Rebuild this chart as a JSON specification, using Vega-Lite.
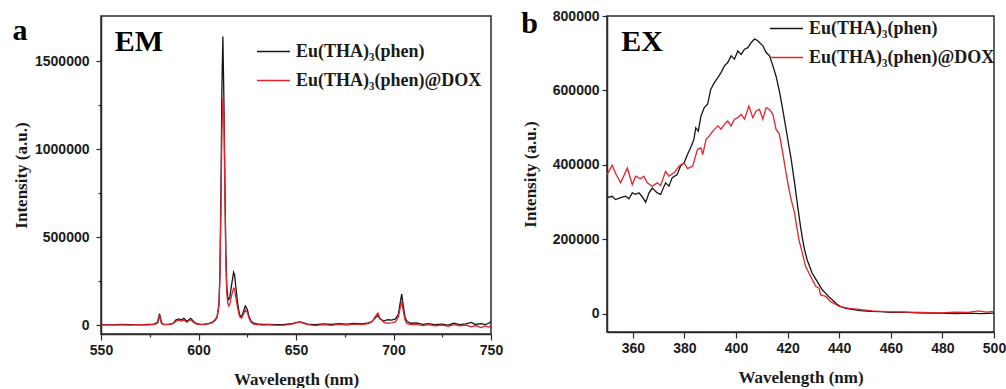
{
  "$schema": "https://vega.github.io/schema/vega-lite/v6.json",
  "background": "white",
  "padding": {"left": 11, "top": 8, "right": 5, "bottom": 0},
  "spacing": 116,
  "bounds": "flush",
  "config": {
    "view": {"stroke": "#2a2a2a", "strokeWidth": 1.5},
    "axis": {
      "grid": false,
      "labelFont": "Liberation Sans",
      "labelFontWeight": "bold",
      "labelFontSize": 14,
      "labelColor": "#1a1a1a",
      "titleFont": "Liberation Serif",
      "titleFontWeight": "bold",
      "titleFontSize": 17,
      "titleColor": "#1a1a1a",
      "domainColor": "#2a2a2a",
      "domainWidth": 1.5,
      "tickColor": "#2a2a2a",
      "tickWidth": 1.2,
      "labelFlush": false,
      "labelOverlap": false
    },
    "legend": {
      "labelFont": "Liberation Serif",
      "labelFontWeight": "bold",
      "labelFontSize": 18,
      "labelLimit": 400,
      "labelColor": "#1a1a1a",
      "symbolType": "stroke",
      "symbolSize": 1089,
      "symbolStrokeWidth": 1.6,
      "labelOffset": 5,
      "rowPadding": 2,
      "padding": 0,
      "title": null
    }
  },
  "resolve": {"scale": {"color": "independent"}, "legend": {"color": "independent"}},
  "datasets": {
    "em": [
      {"series": "Eu(THA)₃(phen)", "wl": 550, "I": 2000},
      {"series": "Eu(THA)₃(phen)", "wl": 555, "I": 1000},
      {"series": "Eu(THA)₃(phen)", "wl": 560, "I": 3000},
      {"series": "Eu(THA)₃(phen)", "wl": 565, "I": 2000},
      {"series": "Eu(THA)₃(phen)", "wl": 570, "I": 1000},
      {"series": "Eu(THA)₃(phen)", "wl": 574, "I": 3000},
      {"series": "Eu(THA)₃(phen)", "wl": 577, "I": 4000},
      {"series": "Eu(THA)₃(phen)", "wl": 579, "I": 15000},
      {"series": "Eu(THA)₃(phen)", "wl": 580, "I": 65000},
      {"series": "Eu(THA)₃(phen)", "wl": 581, "I": 15000},
      {"series": "Eu(THA)₃(phen)", "wl": 582, "I": 4000},
      {"series": "Eu(THA)₃(phen)", "wl": 585, "I": 5000},
      {"series": "Eu(THA)₃(phen)", "wl": 587, "I": 10000},
      {"series": "Eu(THA)₃(phen)", "wl": 588.5, "I": 30000},
      {"series": "Eu(THA)₃(phen)", "wl": 590, "I": 35000},
      {"series": "Eu(THA)₃(phen)", "wl": 591, "I": 28000},
      {"series": "Eu(THA)₃(phen)", "wl": 592.5, "I": 38000},
      {"series": "Eu(THA)₃(phen)", "wl": 594, "I": 22000},
      {"series": "Eu(THA)₃(phen)", "wl": 596, "I": 38000},
      {"series": "Eu(THA)₃(phen)", "wl": 597.5, "I": 20000},
      {"series": "Eu(THA)₃(phen)", "wl": 599, "I": 8000},
      {"series": "Eu(THA)₃(phen)", "wl": 601, "I": 4000},
      {"series": "Eu(THA)₃(phen)", "wl": 603, "I": 5000},
      {"series": "Eu(THA)₃(phen)", "wl": 605, "I": 8000},
      {"series": "Eu(THA)₃(phen)", "wl": 607, "I": 15000},
      {"series": "Eu(THA)₃(phen)", "wl": 608.5, "I": 30000},
      {"series": "Eu(THA)₃(phen)", "wl": 609.5, "I": 45000},
      {"series": "Eu(THA)₃(phen)", "wl": 610.5, "I": 120000},
      {"series": "Eu(THA)₃(phen)", "wl": 611, "I": 300000},
      {"series": "Eu(THA)₃(phen)", "wl": 611.5, "I": 750000},
      {"series": "Eu(THA)₃(phen)", "wl": 612, "I": 1350000},
      {"series": "Eu(THA)₃(phen)", "wl": 612.5, "I": 1640000},
      {"series": "Eu(THA)₃(phen)", "wl": 613, "I": 1300000},
      {"series": "Eu(THA)₃(phen)", "wl": 613.5, "I": 850000},
      {"series": "Eu(THA)₃(phen)", "wl": 614, "I": 420000},
      {"series": "Eu(THA)₃(phen)", "wl": 614.5, "I": 220000},
      {"series": "Eu(THA)₃(phen)", "wl": 615, "I": 160000},
      {"series": "Eu(THA)₃(phen)", "wl": 615.5, "I": 145000},
      {"series": "Eu(THA)₃(phen)", "wl": 616, "I": 155000},
      {"series": "Eu(THA)₃(phen)", "wl": 617, "I": 230000},
      {"series": "Eu(THA)₃(phen)", "wl": 618, "I": 300000},
      {"series": "Eu(THA)₃(phen)", "wl": 618.5, "I": 285000},
      {"series": "Eu(THA)₃(phen)", "wl": 619, "I": 230000},
      {"series": "Eu(THA)₃(phen)", "wl": 620, "I": 130000},
      {"series": "Eu(THA)₃(phen)", "wl": 621, "I": 60000},
      {"series": "Eu(THA)₃(phen)", "wl": 622, "I": 45000},
      {"series": "Eu(THA)₃(phen)", "wl": 623, "I": 75000},
      {"series": "Eu(THA)₃(phen)", "wl": 624, "I": 108000},
      {"series": "Eu(THA)₃(phen)", "wl": 625, "I": 90000},
      {"series": "Eu(THA)₃(phen)", "wl": 626, "I": 45000},
      {"series": "Eu(THA)₃(phen)", "wl": 627, "I": 22000},
      {"series": "Eu(THA)₃(phen)", "wl": 628, "I": 12000},
      {"series": "Eu(THA)₃(phen)", "wl": 630, "I": 6000},
      {"series": "Eu(THA)₃(phen)", "wl": 633, "I": 4000},
      {"series": "Eu(THA)₃(phen)", "wl": 636, "I": 3000},
      {"series": "Eu(THA)₃(phen)", "wl": 640, "I": 2000},
      {"series": "Eu(THA)₃(phen)", "wl": 644, "I": 3000},
      {"series": "Eu(THA)₃(phen)", "wl": 648, "I": 8000},
      {"series": "Eu(THA)₃(phen)", "wl": 650, "I": 14000},
      {"series": "Eu(THA)₃(phen)", "wl": 652, "I": 18000},
      {"series": "Eu(THA)₃(phen)", "wl": 654, "I": 12000},
      {"series": "Eu(THA)₃(phen)", "wl": 656, "I": 5000},
      {"series": "Eu(THA)₃(phen)", "wl": 660, "I": 2000},
      {"series": "Eu(THA)₃(phen)", "wl": 664, "I": 6000},
      {"series": "Eu(THA)₃(phen)", "wl": 668, "I": 3000},
      {"series": "Eu(THA)₃(phen)", "wl": 672, "I": 8000},
      {"series": "Eu(THA)₃(phen)", "wl": 676, "I": 5000},
      {"series": "Eu(THA)₃(phen)", "wl": 680, "I": 9000},
      {"series": "Eu(THA)₃(phen)", "wl": 684, "I": 6000},
      {"series": "Eu(THA)₃(phen)", "wl": 687, "I": 12000},
      {"series": "Eu(THA)₃(phen)", "wl": 689, "I": 20000},
      {"series": "Eu(THA)₃(phen)", "wl": 691, "I": 45000},
      {"series": "Eu(THA)₃(phen)", "wl": 692, "I": 55000},
      {"series": "Eu(THA)₃(phen)", "wl": 693, "I": 35000},
      {"series": "Eu(THA)₃(phen)", "wl": 695, "I": 22000},
      {"series": "Eu(THA)₃(phen)", "wl": 697, "I": 30000},
      {"series": "Eu(THA)₃(phen)", "wl": 699, "I": 28000},
      {"series": "Eu(THA)₃(phen)", "wl": 701, "I": 35000},
      {"series": "Eu(THA)₃(phen)", "wl": 702.5, "I": 60000},
      {"series": "Eu(THA)₃(phen)", "wl": 703.5, "I": 130000},
      {"series": "Eu(THA)₃(phen)", "wl": 704.2, "I": 176000},
      {"series": "Eu(THA)₃(phen)", "wl": 705, "I": 110000},
      {"series": "Eu(THA)₃(phen)", "wl": 706, "I": 40000},
      {"series": "Eu(THA)₃(phen)", "wl": 707, "I": 20000},
      {"series": "Eu(THA)₃(phen)", "wl": 709, "I": 10000},
      {"series": "Eu(THA)₃(phen)", "wl": 712, "I": 12000},
      {"series": "Eu(THA)₃(phen)", "wl": 715, "I": 4000},
      {"series": "Eu(THA)₃(phen)", "wl": 718, "I": 8000},
      {"series": "Eu(THA)₃(phen)", "wl": 721, "I": 2000},
      {"series": "Eu(THA)₃(phen)", "wl": 725, "I": 5000},
      {"series": "Eu(THA)₃(phen)", "wl": 728, "I": 0},
      {"series": "Eu(THA)₃(phen)", "wl": 731, "I": 10000},
      {"series": "Eu(THA)₃(phen)", "wl": 734, "I": 2000},
      {"series": "Eu(THA)₃(phen)", "wl": 737, "I": 6000},
      {"series": "Eu(THA)₃(phen)", "wl": 740, "I": 15000},
      {"series": "Eu(THA)₃(phen)", "wl": 742, "I": 3000},
      {"series": "Eu(THA)₃(phen)", "wl": 745, "I": 8000},
      {"series": "Eu(THA)₃(phen)", "wl": 747, "I": 2000},
      {"series": "Eu(THA)₃(phen)", "wl": 749, "I": 10000},
      {"series": "Eu(THA)₃(phen)", "wl": 750, "I": 22000},
      {"series": "Eu(THA)₃(phen)@DOX", "wl": 550, "I": 0},
      {"series": "Eu(THA)₃(phen)@DOX", "wl": 555, "I": 1000},
      {"series": "Eu(THA)₃(phen)@DOX", "wl": 560, "I": 1000},
      {"series": "Eu(THA)₃(phen)@DOX", "wl": 565, "I": 0},
      {"series": "Eu(THA)₃(phen)@DOX", "wl": 570, "I": 2000},
      {"series": "Eu(THA)₃(phen)@DOX", "wl": 574, "I": 1000},
      {"series": "Eu(THA)₃(phen)@DOX", "wl": 577, "I": 3000},
      {"series": "Eu(THA)₃(phen)@DOX", "wl": 579, "I": 10000},
      {"series": "Eu(THA)₃(phen)@DOX", "wl": 580, "I": 50000},
      {"series": "Eu(THA)₃(phen)@DOX", "wl": 581, "I": 10000},
      {"series": "Eu(THA)₃(phen)@DOX", "wl": 582, "I": 2000},
      {"series": "Eu(THA)₃(phen)@DOX", "wl": 585, "I": 3000},
      {"series": "Eu(THA)₃(phen)@DOX", "wl": 587, "I": 8000},
      {"series": "Eu(THA)₃(phen)@DOX", "wl": 588.5, "I": 22000},
      {"series": "Eu(THA)₃(phen)@DOX", "wl": 590, "I": 28000},
      {"series": "Eu(THA)₃(phen)@DOX", "wl": 591, "I": 22000},
      {"series": "Eu(THA)₃(phen)@DOX", "wl": 592.5, "I": 28000},
      {"series": "Eu(THA)₃(phen)@DOX", "wl": 594, "I": 16000},
      {"series": "Eu(THA)₃(phen)@DOX", "wl": 596, "I": 30000},
      {"series": "Eu(THA)₃(phen)@DOX", "wl": 597.5, "I": 15000},
      {"series": "Eu(THA)₃(phen)@DOX", "wl": 599, "I": 5000},
      {"series": "Eu(THA)₃(phen)@DOX", "wl": 601, "I": 2000},
      {"series": "Eu(THA)₃(phen)@DOX", "wl": 603, "I": 3000},
      {"series": "Eu(THA)₃(phen)@DOX", "wl": 605, "I": 6000},
      {"series": "Eu(THA)₃(phen)@DOX", "wl": 607, "I": 12000},
      {"series": "Eu(THA)₃(phen)@DOX", "wl": 608.5, "I": 25000},
      {"series": "Eu(THA)₃(phen)@DOX", "wl": 609.5, "I": 40000},
      {"series": "Eu(THA)₃(phen)@DOX", "wl": 610.5, "I": 110000},
      {"series": "Eu(THA)₃(phen)@DOX", "wl": 611, "I": 280000},
      {"series": "Eu(THA)₃(phen)@DOX", "wl": 611.5, "I": 650000},
      {"series": "Eu(THA)₃(phen)@DOX", "wl": 612, "I": 1100000},
      {"series": "Eu(THA)₃(phen)@DOX", "wl": 612.5, "I": 1290000},
      {"series": "Eu(THA)₃(phen)@DOX", "wl": 613, "I": 1200000},
      {"series": "Eu(THA)₃(phen)@DOX", "wl": 613.5, "I": 800000},
      {"series": "Eu(THA)₃(phen)@DOX", "wl": 614, "I": 380000},
      {"series": "Eu(THA)₃(phen)@DOX", "wl": 614.5, "I": 180000},
      {"series": "Eu(THA)₃(phen)@DOX", "wl": 615, "I": 125000},
      {"series": "Eu(THA)₃(phen)@DOX", "wl": 615.5, "I": 108000},
      {"series": "Eu(THA)₃(phen)@DOX", "wl": 616, "I": 115000},
      {"series": "Eu(THA)₃(phen)@DOX", "wl": 617, "I": 170000},
      {"series": "Eu(THA)₃(phen)@DOX", "wl": 618, "I": 210000},
      {"series": "Eu(THA)₃(phen)@DOX", "wl": 618.5, "I": 205000},
      {"series": "Eu(THA)₃(phen)@DOX", "wl": 619, "I": 165000},
      {"series": "Eu(THA)₃(phen)@DOX", "wl": 620, "I": 100000},
      {"series": "Eu(THA)₃(phen)@DOX", "wl": 621, "I": 50000},
      {"series": "Eu(THA)₃(phen)@DOX", "wl": 622, "I": 38000},
      {"series": "Eu(THA)₃(phen)@DOX", "wl": 623, "I": 60000},
      {"series": "Eu(THA)₃(phen)@DOX", "wl": 624, "I": 85000},
      {"series": "Eu(THA)₃(phen)@DOX", "wl": 625, "I": 72000},
      {"series": "Eu(THA)₃(phen)@DOX", "wl": 626, "I": 35000},
      {"series": "Eu(THA)₃(phen)@DOX", "wl": 627, "I": 15000},
      {"series": "Eu(THA)₃(phen)@DOX", "wl": 628, "I": 6000},
      {"series": "Eu(THA)₃(phen)@DOX", "wl": 630, "I": 2000},
      {"series": "Eu(THA)₃(phen)@DOX", "wl": 633, "I": 0},
      {"series": "Eu(THA)₃(phen)@DOX", "wl": 636, "I": 2000},
      {"series": "Eu(THA)₃(phen)@DOX", "wl": 640, "I": -2000},
      {"series": "Eu(THA)₃(phen)@DOX", "wl": 644, "I": 0},
      {"series": "Eu(THA)₃(phen)@DOX", "wl": 648, "I": 5000},
      {"series": "Eu(THA)₃(phen)@DOX", "wl": 650, "I": 12000},
      {"series": "Eu(THA)₃(phen)@DOX", "wl": 652, "I": 16000},
      {"series": "Eu(THA)₃(phen)@DOX", "wl": 654, "I": 10000},
      {"series": "Eu(THA)₃(phen)@DOX", "wl": 656, "I": 2000},
      {"series": "Eu(THA)₃(phen)@DOX", "wl": 660, "I": -3000},
      {"series": "Eu(THA)₃(phen)@DOX", "wl": 664, "I": 2000},
      {"series": "Eu(THA)₃(phen)@DOX", "wl": 668, "I": -2000},
      {"series": "Eu(THA)₃(phen)@DOX", "wl": 672, "I": 4000},
      {"series": "Eu(THA)₃(phen)@DOX", "wl": 676, "I": 0},
      {"series": "Eu(THA)₃(phen)@DOX", "wl": 680, "I": 5000},
      {"series": "Eu(THA)₃(phen)@DOX", "wl": 684, "I": 2000},
      {"series": "Eu(THA)₃(phen)@DOX", "wl": 687, "I": 8000},
      {"series": "Eu(THA)₃(phen)@DOX", "wl": 689, "I": 18000},
      {"series": "Eu(THA)₃(phen)@DOX", "wl": 691, "I": 55000},
      {"series": "Eu(THA)₃(phen)@DOX", "wl": 692, "I": 68000},
      {"series": "Eu(THA)₃(phen)@DOX", "wl": 693, "I": 40000},
      {"series": "Eu(THA)₃(phen)@DOX", "wl": 695, "I": 15000},
      {"series": "Eu(THA)₃(phen)@DOX", "wl": 697, "I": 10000},
      {"series": "Eu(THA)₃(phen)@DOX", "wl": 699, "I": 12000},
      {"series": "Eu(THA)₃(phen)@DOX", "wl": 701, "I": 18000},
      {"series": "Eu(THA)₃(phen)@DOX", "wl": 702.5, "I": 45000},
      {"series": "Eu(THA)₃(phen)@DOX", "wl": 703.5, "I": 100000},
      {"series": "Eu(THA)₃(phen)@DOX", "wl": 704.2, "I": 132000},
      {"series": "Eu(THA)₃(phen)@DOX", "wl": 705, "I": 80000},
      {"series": "Eu(THA)₃(phen)@DOX", "wl": 706, "I": 25000},
      {"series": "Eu(THA)₃(phen)@DOX", "wl": 707, "I": 8000},
      {"series": "Eu(THA)₃(phen)@DOX", "wl": 709, "I": 2000},
      {"series": "Eu(THA)₃(phen)@DOX", "wl": 712, "I": 4000},
      {"series": "Eu(THA)₃(phen)@DOX", "wl": 715, "I": -3000},
      {"series": "Eu(THA)₃(phen)@DOX", "wl": 718, "I": 2000},
      {"series": "Eu(THA)₃(phen)@DOX", "wl": 721, "I": -5000},
      {"series": "Eu(THA)₃(phen)@DOX", "wl": 725, "I": 0},
      {"series": "Eu(THA)₃(phen)@DOX", "wl": 728, "I": -8000},
      {"series": "Eu(THA)₃(phen)@DOX", "wl": 731, "I": 2000},
      {"series": "Eu(THA)₃(phen)@DOX", "wl": 734, "I": -5000},
      {"series": "Eu(THA)₃(phen)@DOX", "wl": 737, "I": 0},
      {"series": "Eu(THA)₃(phen)@DOX", "wl": 740, "I": -10000},
      {"series": "Eu(THA)₃(phen)@DOX", "wl": 742, "I": -3000},
      {"series": "Eu(THA)₃(phen)@DOX", "wl": 745, "I": -15000},
      {"series": "Eu(THA)₃(phen)@DOX", "wl": 747, "I": -5000},
      {"series": "Eu(THA)₃(phen)@DOX", "wl": 749, "I": -12000},
      {"series": "Eu(THA)₃(phen)@DOX", "wl": 750, "I": -5000}
    ],
    "ex": [
      {"series": "Eu(THA)₃(phen)", "wl": 350, "I": 312000},
      {"series": "Eu(THA)₃(phen)", "wl": 352, "I": 316000},
      {"series": "Eu(THA)₃(phen)", "wl": 353.3, "I": 307000},
      {"series": "Eu(THA)₃(phen)", "wl": 355.3, "I": 312000},
      {"series": "Eu(THA)₃(phen)", "wl": 357.2, "I": 316000},
      {"series": "Eu(THA)₃(phen)", "wl": 358.5, "I": 309000},
      {"series": "Eu(THA)₃(phen)", "wl": 359.8, "I": 325000},
      {"series": "Eu(THA)₃(phen)", "wl": 361.1, "I": 321000},
      {"series": "Eu(THA)₃(phen)", "wl": 362.4, "I": 325000},
      {"series": "Eu(THA)₃(phen)", "wl": 363.7, "I": 314000},
      {"series": "Eu(THA)₃(phen)", "wl": 365, "I": 300000},
      {"series": "Eu(THA)₃(phen)", "wl": 366.3, "I": 325000},
      {"series": "Eu(THA)₃(phen)", "wl": 367.5, "I": 338000},
      {"series": "Eu(THA)₃(phen)", "wl": 369.5, "I": 325000},
      {"series": "Eu(THA)₃(phen)", "wl": 370.8, "I": 321000},
      {"series": "Eu(THA)₃(phen)", "wl": 372.7, "I": 352000},
      {"series": "Eu(THA)₃(phen)", "wl": 374, "I": 343000},
      {"series": "Eu(THA)₃(phen)", "wl": 375.3, "I": 366000},
      {"series": "Eu(THA)₃(phen)", "wl": 377.2, "I": 374000},
      {"series": "Eu(THA)₃(phen)", "wl": 378.5, "I": 397000},
      {"series": "Eu(THA)₃(phen)", "wl": 379.9, "I": 406000},
      {"series": "Eu(THA)₃(phen)", "wl": 381.2, "I": 428000},
      {"series": "Eu(THA)₃(phen)", "wl": 382.4, "I": 446000},
      {"series": "Eu(THA)₃(phen)", "wl": 383.7, "I": 469000},
      {"series": "Eu(THA)₃(phen)", "wl": 384.4, "I": 500000},
      {"series": "Eu(THA)₃(phen)", "wl": 385.4, "I": 491000},
      {"series": "Eu(THA)₃(phen)", "wl": 386.4, "I": 531000},
      {"series": "Eu(THA)₃(phen)", "wl": 387.7, "I": 554000},
      {"series": "Eu(THA)₃(phen)", "wl": 389, "I": 563000},
      {"series": "Eu(THA)₃(phen)", "wl": 390.2, "I": 603000},
      {"series": "Eu(THA)₃(phen)", "wl": 391.6, "I": 621000},
      {"series": "Eu(THA)₃(phen)", "wl": 392.9, "I": 634000},
      {"series": "Eu(THA)₃(phen)", "wl": 394.2, "I": 648000},
      {"series": "Eu(THA)₃(phen)", "wl": 395.5, "I": 666000},
      {"series": "Eu(THA)₃(phen)", "wl": 396.8, "I": 675000},
      {"series": "Eu(THA)₃(phen)", "wl": 398.1, "I": 693000},
      {"series": "Eu(THA)₃(phen)", "wl": 399.4, "I": 684000},
      {"series": "Eu(THA)₃(phen)", "wl": 400.7, "I": 706000},
      {"series": "Eu(THA)₃(phen)", "wl": 402, "I": 697000},
      {"series": "Eu(THA)₃(phen)", "wl": 403.3, "I": 711000},
      {"series": "Eu(THA)₃(phen)", "wl": 404.6, "I": 715000},
      {"series": "Eu(THA)₃(phen)", "wl": 405.9, "I": 729000},
      {"series": "Eu(THA)₃(phen)", "wl": 407.2, "I": 738000},
      {"series": "Eu(THA)₃(phen)", "wl": 408.2, "I": 735000},
      {"series": "Eu(THA)₃(phen)", "wl": 409.1, "I": 729000},
      {"series": "Eu(THA)₃(phen)", "wl": 410.4, "I": 720000},
      {"series": "Eu(THA)₃(phen)", "wl": 411.7, "I": 702000},
      {"series": "Eu(THA)₃(phen)", "wl": 413, "I": 693000},
      {"series": "Eu(THA)₃(phen)", "wl": 414.3, "I": 666000},
      {"series": "Eu(THA)₃(phen)", "wl": 415.5, "I": 639000},
      {"series": "Eu(THA)₃(phen)", "wl": 416.8, "I": 599000},
      {"series": "Eu(THA)₃(phen)", "wl": 418.1, "I": 549000},
      {"series": "Eu(THA)₃(phen)", "wl": 419.4, "I": 496000},
      {"series": "Eu(THA)₃(phen)", "wl": 420.4, "I": 455000},
      {"series": "Eu(THA)₃(phen)", "wl": 421.4, "I": 415000},
      {"series": "Eu(THA)₃(phen)", "wl": 422.7, "I": 352000},
      {"series": "Eu(THA)₃(phen)", "wl": 424, "I": 285000},
      {"series": "Eu(THA)₃(phen)", "wl": 425, "I": 235000},
      {"series": "Eu(THA)₃(phen)", "wl": 425.7, "I": 205000},
      {"series": "Eu(THA)₃(phen)", "wl": 426.5, "I": 175000},
      {"series": "Eu(THA)₃(phen)", "wl": 427.6, "I": 145000},
      {"series": "Eu(THA)₃(phen)", "wl": 429.5, "I": 110000},
      {"series": "Eu(THA)₃(phen)", "wl": 430.8, "I": 95000},
      {"series": "Eu(THA)₃(phen)", "wl": 432.1, "I": 80000},
      {"series": "Eu(THA)₃(phen)", "wl": 433.4, "I": 65000},
      {"series": "Eu(THA)₃(phen)", "wl": 434.7, "I": 56000},
      {"series": "Eu(THA)₃(phen)", "wl": 436, "I": 46000},
      {"series": "Eu(THA)₃(phen)", "wl": 437.3, "I": 38000},
      {"series": "Eu(THA)₃(phen)", "wl": 438.8, "I": 28000},
      {"series": "Eu(THA)₃(phen)", "wl": 440.5, "I": 20000},
      {"series": "Eu(THA)₃(phen)", "wl": 442.5, "I": 15000},
      {"series": "Eu(THA)₃(phen)", "wl": 445, "I": 12000},
      {"series": "Eu(THA)₃(phen)", "wl": 448, "I": 9000},
      {"series": "Eu(THA)₃(phen)", "wl": 452, "I": 7000},
      {"series": "Eu(THA)₃(phen)", "wl": 456, "I": 6000},
      {"series": "Eu(THA)₃(phen)", "wl": 460, "I": 4000},
      {"series": "Eu(THA)₃(phen)", "wl": 465, "I": 5000},
      {"series": "Eu(THA)₃(phen)", "wl": 470, "I": 3000},
      {"series": "Eu(THA)₃(phen)", "wl": 475, "I": 2000},
      {"series": "Eu(THA)₃(phen)", "wl": 480, "I": 2000},
      {"series": "Eu(THA)₃(phen)", "wl": 485, "I": 1000},
      {"series": "Eu(THA)₃(phen)", "wl": 490, "I": 2000},
      {"series": "Eu(THA)₃(phen)", "wl": 495, "I": 1000},
      {"series": "Eu(THA)₃(phen)", "wl": 500, "I": 2000},
      {"series": "Eu(THA)₃(phen)@DOX", "wl": 350, "I": 374000},
      {"series": "Eu(THA)₃(phen)@DOX", "wl": 352, "I": 399000},
      {"series": "Eu(THA)₃(phen)@DOX", "wl": 353.5, "I": 375000},
      {"series": "Eu(THA)₃(phen)@DOX", "wl": 355.3, "I": 352000},
      {"series": "Eu(THA)₃(phen)@DOX", "wl": 357.9, "I": 392000},
      {"series": "Eu(THA)₃(phen)@DOX", "wl": 359.8, "I": 347000},
      {"series": "Eu(THA)₃(phen)@DOX", "wl": 361.1, "I": 370000},
      {"series": "Eu(THA)₃(phen)@DOX", "wl": 363, "I": 363000},
      {"series": "Eu(THA)₃(phen)@DOX", "wl": 364.3, "I": 370000},
      {"series": "Eu(THA)₃(phen)@DOX", "wl": 365.6, "I": 352000},
      {"series": "Eu(THA)₃(phen)@DOX", "wl": 367.5, "I": 343000},
      {"series": "Eu(THA)₃(phen)@DOX", "wl": 369.5, "I": 352000},
      {"series": "Eu(THA)₃(phen)@DOX", "wl": 370.8, "I": 345000},
      {"series": "Eu(THA)₃(phen)@DOX", "wl": 372.7, "I": 383000},
      {"series": "Eu(THA)₃(phen)@DOX", "wl": 374, "I": 370000},
      {"series": "Eu(THA)₃(phen)@DOX", "wl": 376, "I": 379000},
      {"series": "Eu(THA)₃(phen)@DOX", "wl": 378, "I": 397000},
      {"series": "Eu(THA)₃(phen)@DOX", "wl": 379.9, "I": 406000},
      {"series": "Eu(THA)₃(phen)@DOX", "wl": 381.2, "I": 390000},
      {"series": "Eu(THA)₃(phen)@DOX", "wl": 383.2, "I": 397000},
      {"series": "Eu(THA)₃(phen)@DOX", "wl": 385.1, "I": 442000},
      {"series": "Eu(THA)₃(phen)@DOX", "wl": 386.4, "I": 446000},
      {"series": "Eu(THA)₃(phen)@DOX", "wl": 387.1, "I": 428000},
      {"series": "Eu(THA)₃(phen)@DOX", "wl": 388.4, "I": 469000},
      {"series": "Eu(THA)₃(phen)@DOX", "wl": 389.7, "I": 478000},
      {"series": "Eu(THA)₃(phen)@DOX", "wl": 391, "I": 491000},
      {"series": "Eu(THA)₃(phen)@DOX", "wl": 393, "I": 505000},
      {"series": "Eu(THA)₃(phen)@DOX", "wl": 394.2, "I": 496000},
      {"series": "Eu(THA)₃(phen)@DOX", "wl": 395.5, "I": 509000},
      {"series": "Eu(THA)₃(phen)@DOX", "wl": 396.8, "I": 518000},
      {"series": "Eu(THA)₃(phen)@DOX", "wl": 398.1, "I": 505000},
      {"series": "Eu(THA)₃(phen)@DOX", "wl": 399.4, "I": 523000},
      {"series": "Eu(THA)₃(phen)@DOX", "wl": 400.7, "I": 527000},
      {"series": "Eu(THA)₃(phen)@DOX", "wl": 402, "I": 536000},
      {"series": "Eu(THA)₃(phen)@DOX", "wl": 403.3, "I": 523000},
      {"series": "Eu(THA)₃(phen)@DOX", "wl": 405, "I": 558000},
      {"series": "Eu(THA)₃(phen)@DOX", "wl": 406.5, "I": 527000},
      {"series": "Eu(THA)₃(phen)@DOX", "wl": 407.8, "I": 545000},
      {"series": "Eu(THA)₃(phen)@DOX", "wl": 409.1, "I": 549000},
      {"series": "Eu(THA)₃(phen)@DOX", "wl": 410.4, "I": 523000},
      {"series": "Eu(THA)₃(phen)@DOX", "wl": 411.7, "I": 554000},
      {"series": "Eu(THA)₃(phen)@DOX", "wl": 413, "I": 549000},
      {"series": "Eu(THA)₃(phen)@DOX", "wl": 414.3, "I": 536000},
      {"series": "Eu(THA)₃(phen)@DOX", "wl": 415.5, "I": 496000},
      {"series": "Eu(THA)₃(phen)@DOX", "wl": 416.8, "I": 483000},
      {"series": "Eu(THA)₃(phen)@DOX", "wl": 418.1, "I": 433000},
      {"series": "Eu(THA)₃(phen)@DOX", "wl": 419.4, "I": 379000},
      {"series": "Eu(THA)₃(phen)@DOX", "wl": 420.4, "I": 340000},
      {"series": "Eu(THA)₃(phen)@DOX", "wl": 421.4, "I": 307000},
      {"series": "Eu(THA)₃(phen)@DOX", "wl": 422.7, "I": 271000},
      {"series": "Eu(THA)₃(phen)@DOX", "wl": 423.5, "I": 235000},
      {"series": "Eu(THA)₃(phen)@DOX", "wl": 424.4, "I": 199000},
      {"series": "Eu(THA)₃(phen)@DOX", "wl": 425.7, "I": 164000},
      {"series": "Eu(THA)₃(phen)@DOX", "wl": 427, "I": 127000},
      {"series": "Eu(THA)₃(phen)@DOX", "wl": 429, "I": 100000},
      {"series": "Eu(THA)₃(phen)@DOX", "wl": 430.9, "I": 74000},
      {"series": "Eu(THA)₃(phen)@DOX", "wl": 432.2, "I": 69000},
      {"series": "Eu(THA)₃(phen)@DOX", "wl": 432.8, "I": 51000},
      {"series": "Eu(THA)₃(phen)@DOX", "wl": 434.8, "I": 47000},
      {"series": "Eu(THA)₃(phen)@DOX", "wl": 436.7, "I": 33000},
      {"series": "Eu(THA)₃(phen)@DOX", "wl": 438.5, "I": 26000},
      {"series": "Eu(THA)₃(phen)@DOX", "wl": 440, "I": 20000},
      {"series": "Eu(THA)₃(phen)@DOX", "wl": 443.9, "I": 15000},
      {"series": "Eu(THA)₃(phen)@DOX", "wl": 447.7, "I": 12000},
      {"series": "Eu(THA)₃(phen)@DOX", "wl": 452.9, "I": 8000},
      {"series": "Eu(THA)₃(phen)@DOX", "wl": 458, "I": 6000},
      {"series": "Eu(THA)₃(phen)@DOX", "wl": 465.8, "I": 5000},
      {"series": "Eu(THA)₃(phen)@DOX", "wl": 472, "I": 4000},
      {"series": "Eu(THA)₃(phen)@DOX", "wl": 478.7, "I": 3000},
      {"series": "Eu(THA)₃(phen)@DOX", "wl": 485, "I": 5000},
      {"series": "Eu(THA)₃(phen)@DOX", "wl": 490, "I": 4000},
      {"series": "Eu(THA)₃(phen)@DOX", "wl": 494, "I": 8000},
      {"series": "Eu(THA)₃(phen)@DOX", "wl": 497, "I": 5000},
      {"series": "Eu(THA)₃(phen)@DOX", "wl": 500, "I": 7000}
    ]
  },
  "hconcat": [
    {
      "width": 390,
      "height": 318,
      "title": {"text": "a", "anchor": "start", "frame": "bounds", "font": "Liberation Serif", "fontSize": 30, "fontWeight": "bold", "color": "#000", "offset": 0, "dy": 30},
      "layer": [
        {
          "data": {"name": "em"},
          "mark": {"type": "line", "strokeWidth": 1.3, "clip": true},
          "encoding": {
            "x": {"field": "wl", "type": "quantitative", "scale": {"domain": [550, 750], "nice": false, "zero": false},
              "axis": {"title": "Wavelength (nm)", "values": [550, 575, 600, 625, 650, 675, 700, 725, 750], "format": "d",
                "labelExpr": "datum.value % 50 == 0 ? datum.label : ''",
                "labelOverlap": false,
                "tickSize": {"condition": {"test": "datum.value % 50 == 0", "value": 6}, "value": 3},
                "labelPadding": 3, "titlePadding": 14}},
            "y": {"field": "I", "type": "quantitative", "scale": {"domain": [-51000, 1756000], "nice": false, "zero": false},
              "axis": {"title": "Intensity (a.u.)", "values": [0, 250000, 500000, 750000, 1000000, 1250000, 1500000], "format": "d",
                "labelExpr": "datum.value % 500000 == 0 ? datum.label : ''",
                "labelOverlap": false,
                "tickSize": {"condition": {"test": "datum.value % 500000 == 0", "value": 5}, "value": 3},
                "labelPadding": 7, "titlePadding": 4}},
            "color": {"field": "series", "type": "nominal",
              "scale": {"domain": ["Eu(THA)₃(phen)", "Eu(THA)₃(phen)@DOX"], "range": ["#151515", "#e3232b"]},
              "legend": {"orient": "none", "legendX": 155, "legendY": 18}}
          }
        },
        {
          "data": {"values": [{}]},
          "mark": {"type": "text", "text": "EM", "font": "Liberation Serif", "fontWeight": "bold", "fontSize": 30, "align": "left", "baseline": "middle", "color": "#000"},
          "encoding": {
            "x": {"datum": 557, "type": "quantitative"},
            "y": {"datum": 1610000, "type": "quantitative"}
          }
        }
      ]
    },
    {
      "width": 387,
      "height": 316,
      "title": {"text": "b", "anchor": "start", "frame": "bounds", "font": "Liberation Serif", "fontSize": 30, "fontWeight": "bold", "color": "#000", "offset": 0, "dy": 30},
      "layer": [
        {
          "data": {"name": "ex"},
          "mark": {"type": "line", "strokeWidth": 1.3, "clip": true},
          "encoding": {
            "x": {"field": "wl", "type": "quantitative", "scale": {"domain": [350, 500], "nice": false, "zero": false},
              "axis": {"title": "Wavelength (nm)", "values": [360, 370, 380, 390, 400, 410, 420, 430, 440, 450, 460, 470, 480, 490, 500], "format": "d",
                "labelExpr": "datum.value % 20 == 0 ? datum.label : ''",
                "labelOverlap": false,
                "tickSize": {"condition": {"test": "datum.value % 20 == 0", "value": 6}, "value": 3},
                "labelPadding": 3, "titlePadding": 14}},
            "y": {"field": "I", "type": "quantitative", "scale": {"domain": [-48500, 800000], "nice": false, "zero": false},
              "axis": {"title": "Intensity (a.u.)", "values": [0, 100000, 200000, 300000, 400000, 500000, 600000, 700000, 800000], "format": "d",
                "labelExpr": "datum.value % 200000 == 0 ? datum.label : ''",
                "labelOverlap": false,
                "tickSize": {"condition": {"test": "datum.value % 200000 == 0", "value": 5}, "value": 3},
                "labelPadding": 3, "titlePadding": 13}},
            "color": {"field": "series", "type": "nominal",
              "scale": {"domain": ["Eu(THA)₃(phen)", "Eu(THA)₃(phen)@DOX"], "range": ["#151515", "#e3232b"]},
              "legend": {"orient": "none", "legendX": 162, "legendY": -5}}
          }
        },
        {
          "data": {"values": [{}]},
          "mark": {"type": "text", "text": "EX", "font": "Liberation Serif", "fontWeight": "bold", "fontSize": 30, "align": "left", "baseline": "middle", "color": "#000"},
          "encoding": {
            "x": {"datum": 355.5, "type": "quantitative"},
            "y": {"datum": 730000, "type": "quantitative"}
          }
        }
      ]
    }
  ]
}
